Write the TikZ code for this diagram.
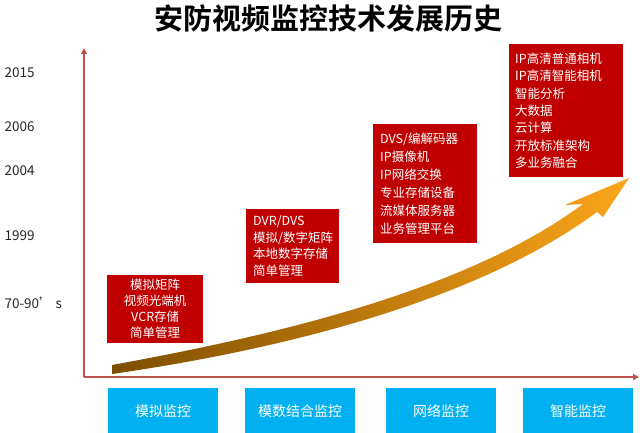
\documentclass[tikz,border=0pt]{standalone}
\usepackage{fontspec}
\setmainfont{Noto Sans CJK SC}[BoldFont={Noto Sans CJK SC Bold}]
\usepackage{xcolor}
\definecolor{axisred}{RGB}{192,80,77}
\definecolor{boxred}{RGB}{192,0,0}
\definecolor{stageblue}{RGB}{0,176,240}
\definecolor{arrowbrown}{RGB}{125,78,0}
\definecolor{arroworange}{RGB}{252,165,25}
\usetikzlibrary{arrows.meta,positioning}

\begin{document}
\begin{tikzpicture}[
  x=1pt,y=-1pt,
  every node/.style={font=\fontsize{12.5}{17}\selectfont},
  yearlbl/.style={anchor=west,font=\fontsize{13.5}{16}\selectfont,text=black!85},
  techbox/.style={fill=boxred,text=white,anchor=north west,inner xsep=7pt,
                  inner ysep=0pt,align=left},
  stagebox/.style={fill=stageblue,text=white,anchor=north west,inner sep=0pt,
                   minimum width=110,minimum height=45,
                   font=\fontsize{14}{16}\selectfont},
  axis/.style={axisred,line width=1.6pt,-{Triangle[length=6pt,width=6pt]}},
]
  \useasboundingbox (0,0) rectangle (640,433);

  % Title
  \node[font=\fontsize{29}{32}\selectfont\bfseries] (title) at (328,18)
    {安防视频监控技术发展历史};

  % Axes
  \coordinate (origin) at (84,377);
  \coordinate (ytop) at (84,48);
  \coordinate (xend) at (639,377);
  \draw[axis] (origin) -- (ytop);
  \draw[axis] (origin) -- (xend);

  % Year labels
  \node[yearlbl] (y2015) at (1,73) {2015};
  \node[yearlbl] (y2006) at (1,127) {2006};
  \node[yearlbl] (y2004) at (1,171) {2004};
  \node[yearlbl] (y1999) at (1,236) {1999};
  \node[yearlbl] (y7090) at (1,303) {70-90’ s};

  % Growth arrow
  \shade[left color=arrowbrown,right color=arroworange]
    (112,365) .. controls (260,338) and (462,294) .. (583,204)
    -- (565,205) -- (629,178) -- (603,217) -- (597,212)
    .. controls (470,306) and (265,352) .. (112,374) -- cycle;

  % Technology boxes
  \node[techbox,align=center,text width=82,minimum height=68,
        font=\fontsize{12.5}{16}\selectfont] (analog) at (107,275)
    {模拟矩阵\\视频光端机\\VCR存储\\简单管理};
  \node[techbox,text width=79,minimum height=74,
        font=\fontsize{12.5}{16.5}\selectfont] (hybrid) at (246,209)
    {DVR/DVS\\模拟/数字矩阵\\本地数字存储\\简单管理};
  \node[techbox,text width=90,minimum height=119,
        font=\fontsize{12.5}{18}\selectfont] (network) at (373,124)
    {DVS/编解码器\\IP摄像机\\IP网络交换\\专业存储设备\\流媒体服务器\\业务管理平台};
  \node[techbox,text width=102,minimum height=133,inner xsep=6pt,
        font=\fontsize{12.5}{17.4}\selectfont] (smart) at (509,44)
    {IP高清普通相机\\IP高清智能相机\\智能分析\\大数据\\云计算\\开放标准架构\\多业务融合};

  % Stage boxes
  \node[stagebox] (stage1) at (108,388) {模拟监控};
  \node[stagebox] (stage2) at (245,388) {模数结合监控};
  \node[stagebox] (stage3) at (386,388) {网络监控};
  \node[stagebox] (stage4) at (523,388) {智能监控};
\end{tikzpicture}
\end{document}
